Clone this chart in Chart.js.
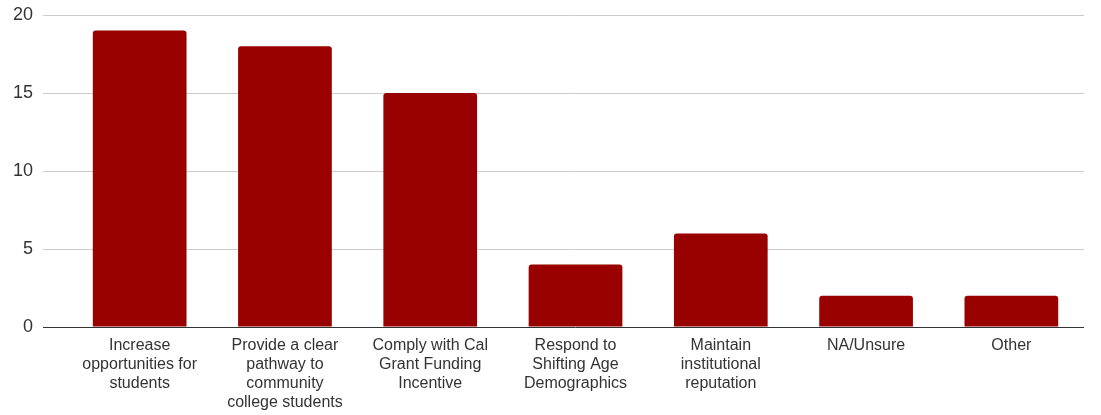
<!DOCTYPE html>
<html>
<head>
<meta charset="utf-8">
<script src="https://cdn.jsdelivr.net/npm/chart.js@4"></script>
<style>
  body { margin: 0; background: #fff; }
</style>
</head>
<body>
<canvas id="mycanvas" width="1101" height="415"></canvas>
<script>
var categories = [
  ["Increase", "opportunities for", "students"],
  ["Provide a clear", "pathway to", "community", "college students"],
  ["Comply with Cal", "Grant Funding", "Incentive"],
  ["Respond to", "Shifting Age", "Demographics"],
  ["Maintain", "institutional", "reputation"],
  ["NA/Unsure"],
  ["Other"]
];
var counts = [19, 18, 15, 4, 6, 2, 2];
var yTicks = [0, 5, 10, 15, 20];

var ctx = document.getElementById("mycanvas");

var barGraph = new Chart(ctx, {
  type: 'bar',
  data: {
    labels: categories,
    datasets: [{
      label: 'Count',
      backgroundColor: '#990000',
      borderRadius: { topLeft: 3, topRight: 3 },
      borderSkipped: 'bottom',
      barPercentage: 0.645,
      categoryPercentage: 1,
      data: counts
    }]
  },
  options: {
    responsive: false,
    animation: false,
    layout: { padding: { left: 3, right: 17, top: 15, bottom: 0 } },
    plugins: {
      legend: { display: false },
      tooltip: { enabled: false }
    },
    scales: {
      x: {
        grid: { display: false },
        border: { display: false },
        afterFit: function(scale) { scale.height = 88; },
        ticks: {
          maxRotation: 0,
          autoSkip: false,
          padding: 1,
          color: '#333',
          font: { family: 'Liberation Sans, Arial, sans-serif', size: 16, lineHeight: '19px' }
        }
      },
      y: {
        min: 0,
        max: 20,
        afterBuildTicks: function(axis) {
          axis.ticks = yTicks.map(function(v) { return { value: v }; });
        },
        afterFit: function(scale) { scale.paddingTop = 0; },
        border: { display: false },
        grid: {
          tickLength: 24,
          color: function(c) { return c.tick && c.tick.value === 0 ? '#333' : '#ccc'; },
          lineWidth: 1
        },
        ticks: {
          padding: 10,
          color: '#333',
          font: { family: 'Liberation Sans, Arial, sans-serif', size: 18 }
        }
      }
    }
  }
});
</script>
</body>
</html>
